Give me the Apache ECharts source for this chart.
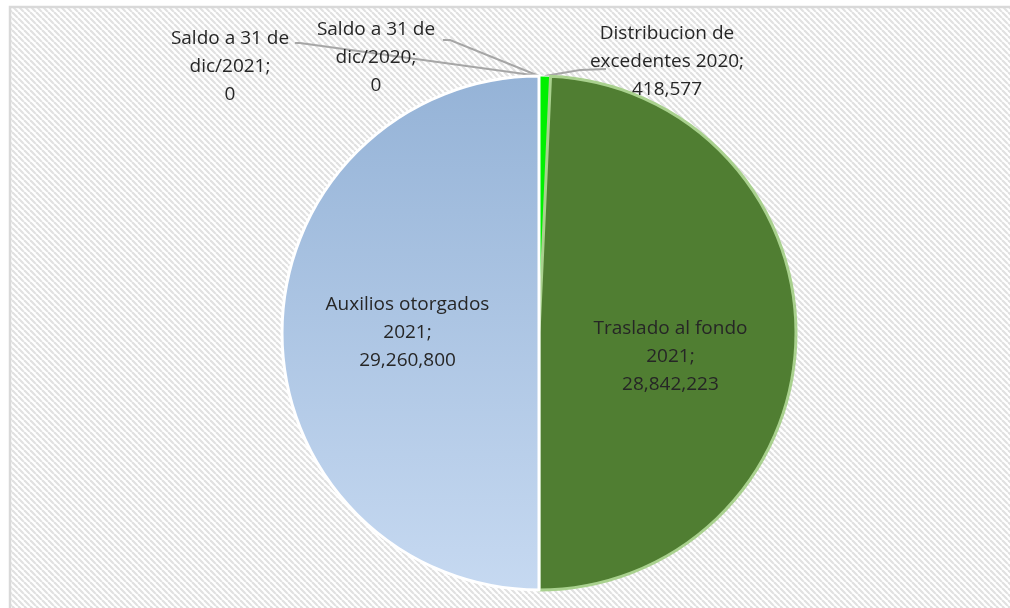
<!DOCTYPE html>
<html lang="es">
<head>
    <meta charset="UTF-8">
    <title>Distribucion de excedentes</title>
    <script src="https://cdn.jsdelivr.net/npm/echarts@6/dist/echarts.min.js"></script>
    <style>
        html, body { margin: 0; padding: 0; background: #fff; overflow: hidden; }
        #pieChart { width: 1010px; height: 608px; }
    </style>
</head>
<body>
<div id="pieChart"></div>

<script>
    // datos
    var sliceNames = ['Distribucion de\nexcedentes 2020', 'Traslado al fondo\n2021', 'Auxilios otorgados\n2021', 'Saldo a 31 de\ndic/2021', 'Saldo a 31 de\ndic/2020'];
    var sliceValues = [418577, 28842223, 29260800, 0, 0];

    // fondo rayado
    var tile = document.createElement('canvas');
    tile.width = 6;
    tile.height = 6;
    var g = tile.getContext('2d');
    g.fillStyle = '#ffffff';
    g.fillRect(0, 0, 6, 6);
    g.strokeStyle = '#e1e1e1';
    g.lineWidth = 2.2;
    [-6, 0, 6].forEach(function (x0) {
        g.beginPath();
        g.moveTo(x0, 0);
        g.lineTo(x0 + 6, 6);
        g.stroke();
    });

    var sliceStyles = [
        {color: '#00f000', borderColor: '#ffffff', borderWidth: 1},
        {color: '#507e32', borderColor: '#a9d18e', borderWidth: 3},
        {
            color: {
                type: 'linear', x: 0, y: 0, x2: 0, y2: 1,
                colorStops: [{offset: 0, color: '#95b3d7'}, {offset: 1, color: '#c6d9f1'}]
            },
            borderColor: '#ffffff', borderWidth: 3
        },
        {color: '#7f7f7f', borderWidth: 0},
        {color: '#a5a5a5', borderWidth: 0}
    ];
    var insideSlice = [false, true, true, false, false];

    let pieData = sliceNames.map(function (name, i) {
        return {
            name: name,
            value: sliceValues[i],
            itemStyle: sliceStyles[i],
            label: {position: insideSlice[i] ? 'inside' : 'outside'},
            labelLine: {show: !insideSlice[i]}
        };
    });

    let chart = echarts.init(document.getElementById('pieChart'));
    let option = {
        animation: false,
        graphic: [{
            type: 'rect',
            z: -10,
            silent: true,
            shape: {x: 10, y: 7, width: 1200, height: 800},
            style: {fill: {image: tile, repeat: 'repeat'}, stroke: '#d9d9d9', lineWidth: 2.5}
        }],
        series: [{
            type: 'pie',
            center: [539, 333],
            radius: 257,
            startAngle: 90,
            clockwise: true,
            avoidLabelOverlap: false,
            label: {
                show: true,
                color: '#262626',
                fontFamily: 'Open Sans',
                fontSize: 19,
                lineHeight: 28,
                align: 'center',
                formatter: function (p) {
                    return p.name + ';\n' + p.value.toLocaleString('en-US');
                }
            },
            labelLine: {
                show: true,
                length: 10,
                length2: 10,
                lineStyle: {color: '#a6a6a6', width: 2}
            },
            labelLayout: function (params) {
                var i = params.dataIndex;
                var p0 = params.labelLinePoints ? params.labelLinePoints[0] : [539, 76];
                if (i === 1) {
                    return {dy: 21};
                }
                if (i === 0) {
                    return {
                        x: 667, y: 62, align: 'center', verticalAlign: 'middle',
                        labelLinePoints: [p0, [580, 70], [606, 69]]
                    };
                }
                if (i === 4) {
                    return {
                        x: 376, y: 58, align: 'center', verticalAlign: 'middle',
                        labelLinePoints: [p0, [450, 40], [443, 40]]
                    };
                }
                if (i === 3) {
                    return {
                        x: 230, y: 67, align: 'center', verticalAlign: 'middle',
                        labelLinePoints: [p0, [300, 43], [295, 43]]
                    };
                }
                return {};
            },
            data: pieData
        }]
    };
    chart.setOption(option);
</script>
</body>
</html>
